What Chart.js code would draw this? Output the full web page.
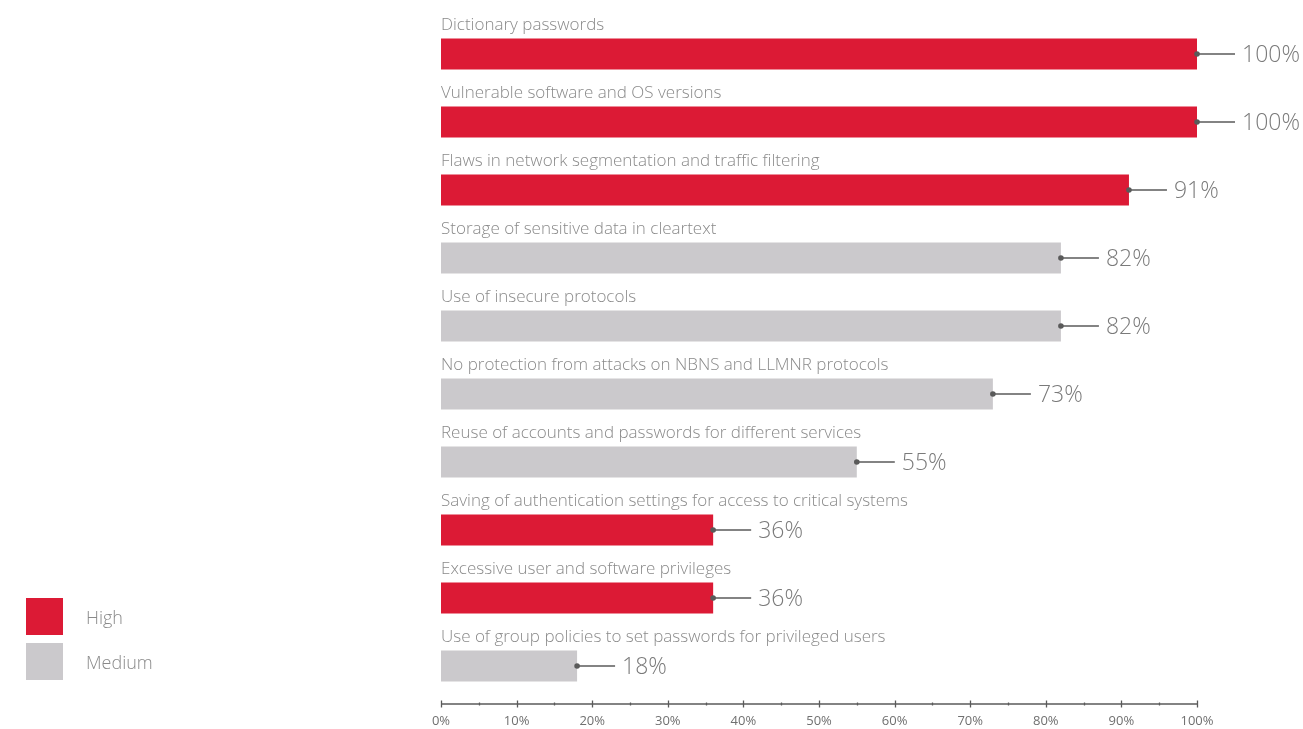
<!DOCTYPE html>
<html lang="en">
<head>
  <meta charset="UTF-8">
  <title>Vulnerabilities by severity</title>
  <script src="https://cdn.jsdelivr.net/npm/chart.js"></script>
  <style>
    html, body { margin: 0; padding: 0; background: #fff; }
    #wrap { position: relative; width: 1303px; height: 729px; }
    .legend { position: absolute; left: 26px; font-family: "Open Sans", sans-serif; font-weight: 300; font-size: 18px; color: #8a8a8a; }
    .legend div { height: 45px; display: flex; align-items: center; }
    .legend span { display: inline-block; width: 37px; height: 37px; margin-right: 23px; }
  </style>
</head>
<body>
  <div id="wrap">
    <canvas id="chart" width="1303" height="729"></canvas>
    <div class="legend" style="top: 594px;">
      <div><span style="background:#dc1a35"></span>High</div>
      <div><span style="background:#cbc9cc"></span>Medium</div>
    </div>
  </div>

  <script>
    const categories = [
      'Dictionary passwords',
      'Vulnerable software and OS versions',
      'Flaws in network segmentation and traffic filtering',
      'Storage of sensitive data in cleartext',
      'Use of insecure protocols',
      'No protection from attacks on NBNS and LLMNR protocols',
      'Reuse of accounts and passwords for different services',
      'Saving of authentication settings for access to critical systems',
      'Excessive user and software privileges',
      'Use of group policies to set passwords for privileged users'
    ];
    const shares = [100, 100, 91, 82, 82, 73, 55, 36, 36, 18];
    const severity = ['High', 'High', 'High', 'Medium', 'Medium', 'Medium', 'Medium', 'High', 'High', 'Medium'];
    const xTicks = [0, 10, 20, 30, 40, 50, 60, 70, 80, 90, 100];

    const severityColors = { High: '#dc1a35', Medium: '#cbc9cc' };

    // labels above bars, leader lines with values, and the x axis line
    const decorations = {
      id: 'decorations',
      afterDatasetsDraw(chart) {
        const ctx = chart.ctx;
        const x = chart.scales.x;
        const y = chart.scales.y;
        ctx.save();

        categories.forEach((name, i) => {
          const cy = y.getPixelForValue(i);
          const ex = x.getPixelForValue(shares[i]);

          ctx.fillStyle = '#8a8a8a';
          ctx.font = '300 17px "Open Sans", sans-serif';
          ctx.textAlign = 'left';
          ctx.textBaseline = 'middle';
          ctx.fillText(name, x.left, cy - 29);

          ctx.strokeStyle = '#5a5a5a';
          ctx.lineWidth = 1.3;
          ctx.beginPath();
          ctx.moveTo(ex, cy);
          ctx.lineTo(ex + 38, cy);
          ctx.stroke();
          ctx.fillStyle = '#5a5a5a';
          ctx.beginPath();
          ctx.arc(ex, cy, 2.8, 0, Math.PI * 2);
          ctx.fill();

          ctx.fillStyle = '#7a7a7a';
          ctx.font = '300 23px "Open Sans", sans-serif';
          ctx.fillText(shares[i] + '%', ex + 45, cy + 1);
        });

        // axis line with major and minor ticks
        const ay = 704;
        ctx.strokeStyle = '#5a5a5a';
        ctx.lineWidth = 1.3;
        ctx.beginPath();
        ctx.moveTo(x.getPixelForValue(0), ay);
        ctx.lineTo(x.getPixelForValue(100), ay);
        ctx.stroke();
        for (let v = 0; v <= 100; v += 5) {
          const px = Math.round(x.getPixelForValue(v)) + 0.5;
          const len = v % 10 === 0 ? 3.5 : 1.5;
          ctx.beginPath();
          ctx.moveTo(px, ay - len);
          ctx.lineTo(px, ay + len);
          ctx.stroke();
        }
        ctx.restore();
      }
    };

    new Chart(document.getElementById('chart'), {
      type: 'bar',
      data: {
        labels: categories,
        datasets: [{
          data: shares,
          backgroundColor: severity.map(s => severityColors[s]),
          barPercentage: 31 / 68,
          categoryPercentage: 1
        }]
      },
      options: {
        indexAxis: 'y',
        responsive: false,
        animation: false,
        layout: { padding: { left: 441, right: 106, top: 20, bottom: 0 } },
        plugins: { legend: { display: false }, tooltip: { enabled: false } },
        scales: {
          y: { display: false },
          x: {
            min: 0,
            max: 100,
            afterBuildTicks(scale) { scale.ticks = xTicks.map(v => ({ value: v })); },
            afterFit(scale) { scale.height = 29; },
            grid: { display: false, drawTicks: false },
            border: { display: false },
            ticks: {
              padding: 13,
              color: '#707070',
              font: { family: '"Open Sans", sans-serif', size: 13 },
              maxRotation: 0,
              callback: v => v + '%'
            }
          }
        }
      },
      plugins: [decorations]
    });
  </script>
</body>
</html>
